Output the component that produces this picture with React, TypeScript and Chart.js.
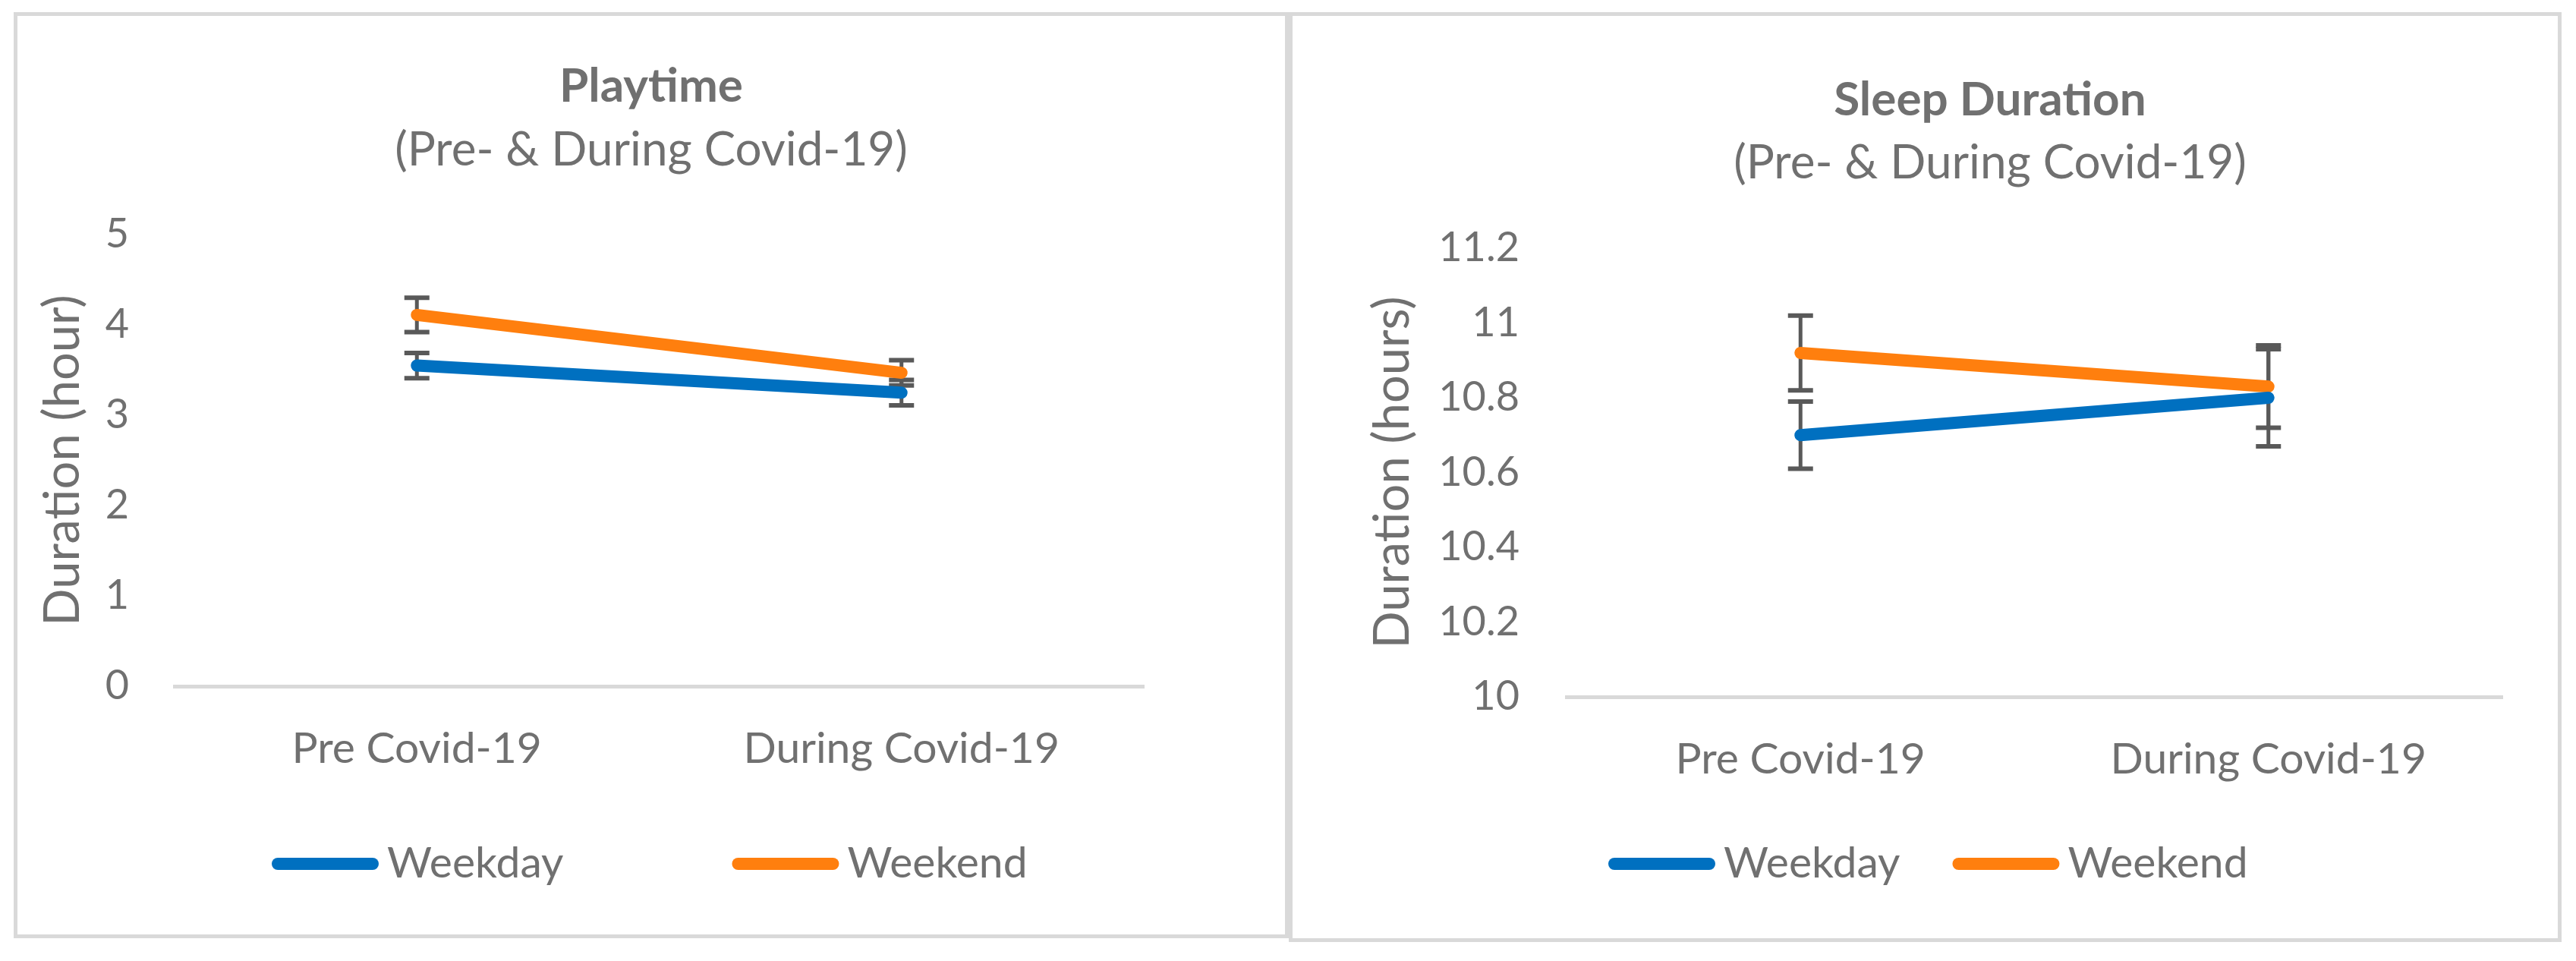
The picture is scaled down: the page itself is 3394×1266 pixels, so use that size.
import React, { useEffect, useRef } from "react";
import { Chart, registerables } from "chart.js";

Chart.register(...registerables);

// ---------- data ----------
const categories = ["Pre Covid-19", "During Covid-19"];
const seriesNames = ["Weekday", "Weekend"];

const playWeekday = [3.55, 3.25];
const playWeekend = [4.11, 3.47];
const playWeekdayErr = [0.14, 0.14];
const playWeekendErr = [0.19, 0.14];
const playTickValues = [0, 1, 2, 3, 4, 5];
const playTickLabels = ["0", "1", "2", "3", "4", "5"];

const sleepWeekday = [10.7, 10.8];
const sleepWeekend = [10.92, 10.83];
const sleepWeekdayErr = [0.09, 0.13];
const sleepWeekendErr = [0.1, 0.11];
const sleepTickValues = [10, 10.2, 10.4, 10.6, 10.8, 11, 11.2];
const sleepTickLabels = ["10", "10.2", "10.4", "10.6", "10.8", "11", "11.2"];

const playTitle = "Playtime";
const sleepTitle = "Sleep Duration";
const subtitleText = "(Pre- & During Covid-19)";
const playAxisTitle = "Duration (hour)";
const sleepAxisTitle = "Duration (hours)";

// ---------- styles ----------
const FONT = "Lato, 'Open Sans', sans-serif";
const TEXT = "#707070";
const BLUE = "#0070C0";
const ORANGE = "#FF7F0E";
const ERR = "#595959";
const PANEL_BORDER = "#d9d9d9";

const errorBarPlugin = {
  id: "errorBars",
  beforeDatasetsDraw(chart: any) {
    const { ctx } = chart;
    const xs = chart.scales.x;
    const ys = chart.scales.y;
    ctx.save();
    ctx.strokeStyle = ERR;
    ctx.lineCap = "butt";
    chart.data.datasets.forEach((ds: any) => {
      const errs: number[] = ds.errorBars;
      if (!errs) return;
      ds.data.forEach((v: number, j: number) => {
        const x = xs.getPixelForValue(j);
        const top = ys.getPixelForValue(v + errs[j]);
        const bot = ys.getPixelForValue(v - errs[j]);
        ctx.lineWidth = 5;
        ctx.beginPath();
        ctx.moveTo(x, top);
        ctx.lineTo(x, bot);
        ctx.stroke();
        ctx.lineWidth = 6;
        ctx.beginPath();
        ctx.moveTo(x - 16.5, top);
        ctx.lineTo(x + 16.5, top);
        ctx.moveTo(x - 16.5, bot);
        ctx.lineTo(x + 16.5, bot);
        ctx.stroke();
      });
    });
    ctx.restore();
  },
};

function makeLegendPlugin(startX: number, y: number, itemGap: number) {
  return {
    id: "lineLegend",
    afterDraw(chart: any) {
      const { ctx } = chart;
      const lineLen = 141;
      const lw = 16;
      const gap = 11;
      ctx.save();
      ctx.font = `57px ${FONT}`;
      ctx.textBaseline = "middle";
      ctx.textAlign = "left";
      let x = startX;
      chart.data.datasets.forEach((ds: any) => {
        ctx.strokeStyle = ds.borderColor;
        ctx.lineWidth = lw;
        ctx.lineCap = "round";
        ctx.beginPath();
        ctx.moveTo(x + lw / 2, y);
        ctx.lineTo(x + lineLen - lw / 2, y);
        ctx.stroke();
        ctx.fillStyle = TEXT;
        const tx = x + lineLen + gap;
        ctx.fillText(ds.label, tx, y);
        x = tx + ctx.measureText(ds.label).width + itemGap;
      });
      ctx.restore();
    },
  };
}

interface Params {
  W: number;
  H: number;
  title: string;
  yTitle: string;
  weekday: number[];
  weekend: number[];
  weekdayErr: number[];
  weekendErr: number[];
  min: number;
  max: number;
  tickValues: number[];
  tickLabels: string[];
  padL: number;
  padB: number;
  titleTop: number;
  subTop: number;
  subBottom: number;
  yWidth: number;
  yTitlePad: number;
  tickPad: number;
  rightGap: number;
  legendX: number;
  legendY: number;
  legendGap: number;
}

function makeConfig(p: Params): any {
  return {
    type: "line",
    data: {
      labels: categories,
      datasets: [
        {
          label: seriesNames[0],
          data: p.weekday,
          errorBars: p.weekdayErr,
          borderColor: BLUE,
          backgroundColor: BLUE,
          borderWidth: 16,
          borderCapStyle: "round",
          pointRadius: 0,
          pointHoverRadius: 0,
          tension: 0,
          clip: false,
        },
        {
          label: seriesNames[1],
          data: p.weekend,
          errorBars: p.weekendErr,
          borderColor: ORANGE,
          backgroundColor: ORANGE,
          borderWidth: 16,
          borderCapStyle: "round",
          pointRadius: 0,
          pointHoverRadius: 0,
          tension: 0,
          clip: false,
        },
      ],
    },
    options: {
      animation: false,
      responsive: false,
      maintainAspectRatio: false,
      events: [],
      layout: { padding: { left: p.padL, right: 0, top: 0, bottom: p.padB } },
      plugins: {
        legend: { display: false },
        tooltip: { enabled: false },
        title: {
          display: true,
          text: p.title,
          color: TEXT,
          font: { family: FONT, size: 62, weight: "bold", lineHeight: 1.2 },
          padding: { top: p.titleTop, bottom: 0 },
        },
        subtitle: {
          display: true,
          text: subtitleText,
          color: TEXT,
          font: { family: FONT, size: 62, weight: "normal", lineHeight: 1.2 },
          padding: { top: p.subTop, bottom: p.subBottom },
        },
      },
      scales: {
        x: {
          type: "category",
          offset: true,
          grid: { display: false, drawTicks: false },
          border: { display: true, color: PANEL_BORDER, width: 5 },
          ticks: {
            color: TEXT,
            font: { family: FONT, size: 57 },
            padding: 48.8,
            maxRotation: 0,
            minRotation: 0,
            autoSkip: false,
          },
          afterFit: (s: any) => {
            s.height = 150;
          },
        },
        y: {
          type: "linear",
          position: "left",
          min: p.min,
          max: p.max,
          grid: { display: false, drawTicks: false },
          border: { display: false },
          ticks: {
            color: TEXT,
            font: { family: FONT, size: 54 },
            padding: p.tickPad,
            autoSkip: false,
            callback: (_v: any, i: number) => p.tickLabels[i],
          },
          afterBuildTicks: (s: any) => {
            s.ticks = p.tickValues.map((v) => ({ value: v }));
          },
          afterFit: (s: any) => {
            s.width = p.yWidth;
          },
          title: {
            display: true,
            text: p.yTitle,
            color: TEXT,
            font: { family: FONT, size: 65, lineHeight: 1.2 },
            padding: { top: p.yTitlePad, bottom: 0 },
          },
        },
        yRight: {
          type: "linear",
          position: "right",
          display: true,
          grid: { display: false, drawTicks: false },
          border: { display: false },
          ticks: { display: false },
          afterFit: (s: any) => {
            s.width = p.rightGap;
          },
        },
      },
    },
    plugins: [errorBarPlugin, makeLegendPlugin(p.legendX, p.legendY, p.legendGap)],
  };
}

const playParams: Params = {
  W: 1670,
  H: 1210,
  title: playTitle,
  yTitle: playAxisTitle,
  weekday: playWeekday,
  weekend: playWeekend,
  weekdayErr: playWeekdayErr,
  weekendErr: playWeekendErr,
  min: 0,
  max: 5,
  tickValues: playTickValues,
  tickLabels: playTickLabels,
  padL: 0,
  padB: 177,
  titleTop: 55.3,
  subTop: 10.1,
  subBottom: 73.8,
  yWidth: 207,
  yTitlePad: 21,
  tickPad: 60,
  rightGap: 186,
  legendX: 335,
  legendY: 1117,
  legendGap: 222,
};

const sleepParams: Params = {
  W: 1667,
  H: 1215,
  title: sleepTitle,
  yTitle: sleepAxisTitle,
  weekday: sleepWeekday,
  weekend: sleepWeekend,
  weekdayErr: sleepWeekdayErr,
  weekendErr: sleepWeekendErr,
  min: 10,
  max: 11.2,
  tickValues: sleepTickValues,
  tickLabels: sleepTickLabels,
  padL: 171,
  padB: 168,
  titleTop: 73.3,
  subTop: 9.1,
  subBottom: 74.8,
  yWidth: 190,
  yTitlePad: -78,
  tickPad: 62,
  rightGap: 73,
  legendX: 416,
  legendY: 1117,
  legendGap: 69,
};

function Panel(props: { left: number; top: number; width: number; height: number; params: Params }) {
  const ref = useRef<HTMLCanvasElement | null>(null);
  useEffect(() => {
    if (!ref.current) return;
    const chart = new Chart(ref.current, makeConfig(props.params));
    return () => chart.destroy();
  }, []);
  const { W, H } = props.params;
  return (
    <div
      style={{
        position: "absolute",
        left: props.left,
        top: props.top,
        width: props.width,
        height: props.height,
        boxSizing: "border-box",
        border: `5px solid ${PANEL_BORDER}`,
        background: "#ffffff",
      }}
    >
      <canvas ref={ref} width={W} height={H} style={{ display: "block", width: W, height: H }} />
    </div>
  );
}

export default function App() {
  return (
    <div
      style={{
        position: "absolute",
        left: 0,
        top: 0,
        width: 3394,
        height: 1266,
        background: "#ffffff",
        overflow: "hidden",
      }}
    >
      <Panel left={18} top={16} width={1680} height={1220} params={playParams} />
      <Panel left={1698} top={16} width={1677} height={1225} params={sleepParams} />
    </div>
  );
}
